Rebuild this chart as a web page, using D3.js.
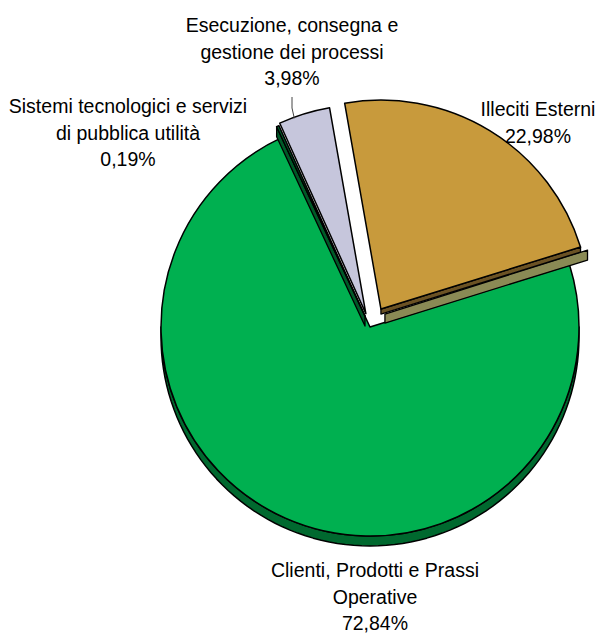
<!DOCTYPE html>
<html>
<head>
<meta charset="utf-8">
<script src="https://cdn.jsdelivr.net/npm/d3@7"></script>
<style>
  html, body { margin: 0; padding: 0; background: #fff; }
  svg { display: block; }
  text { font-family: "Liberation Sans", Arial, sans-serif; font-size: 19.5px; fill: #000; }
</style>
</head>
<body>
<svg id="chart" width="596" height="635"></svg>
<script>
// ---- data ----
const categories = [
  "Illeciti Esterni",
  "Clienti, Prodotti e Prassi Operative",
  "Sistemi tecnologici e servizi di pubblica utilità",
  "Esecuzione, consegna e gestione dei processi"
];
const values = [22.98, 72.84, 0.19, 3.98];
const percentLabels = ["22,98%", "72,84%", "0,19%", "3,98%"];
const nameLines = [
  ["Illeciti Esterni"],
  ["Clienti, Prodotti e Prassi", "Operative"],
  ["Sistemi tecnologici e servizi", "di pubblica utilità"],
  ["Esecuzione, consegna e", "gestione dei processi"]
];
const colors = ["#C89A3C", "#00B050", "#00642E", "#C6C6DC"];

// ---- layout ----
const svg = d3.select("#chart");
const cx = 370, cy = 327, R = 209, depth = 10;
const explode = [21, 0, 12, 14];
const startDeg = -10;
const toRad = d => d * Math.PI / 180;

const pie = d3.pie().sort(null).value(d => d)
  .startAngle(toRad(startDeg)).endAngle(toRad(startDeg) + 2 * Math.PI);
const arcs = pie(values);
const arc = d3.arc().innerRadius(0).outerRadius(R);

function offset(i) {
  const a = (arcs[i].startAngle + arcs[i].endAngle) / 2;
  return [explode[i] * Math.sin(a), -explode[i] * Math.cos(a)];
}
function pt(a, r, o) {
  return [cx + o[0] + r * Math.sin(a), cy + o[1] - r * Math.cos(a)];
}
function poly(points) { return "M" + points.map(p => p.join(",")).join("L") + "Z"; }

const g = svg.append("g");

// side wall of the large slice (front half)
{
  const i = 1, d = arcs[i], o = offset(i);
  const a0 = Math.max(d.startAngle, Math.PI / 2), a1 = Math.min(d.endAngle, 3 * Math.PI / 2);
  const n = 80, top = [], bot = [];
  for (let k = 0; k <= n; k++) {
    const a = a0 + (a1 - a0) * k / n;
    const p = pt(a, R, o);
    top.push(p); bot.push([p[0], p[1] + depth]);
  }
  g.append("path").attr("d", poly(top.concat(bot.reverse())))
    .attr("fill", "#00692F").attr("stroke", "#000").attr("stroke-width", 1.5)
    .attr("stroke-linejoin", "round");
}

// green top
g.append("path").attr("d", arc(arcs[1]))
  .attr("transform", `translate(${cx + offset(1)[0]},${cy + offset(1)[1]})`)
  .attr("fill", colors[1]).attr("stroke", "#000").attr("stroke-width", 1.5).attr("stroke-linejoin", "round");

// radial side faces of the first slice (end edge)
{
  const i = 0, d = arcs[i], o = offset(i);
  const P0 = [cx + o[0], cy + o[1]];
  const P1 = pt(d.endAngle, R, o);
  const olive = [[P0[0] + 4, P0[1] + 5], [P1[0] + 7, P1[1] + 3], [P1[0] + 7, P1[1] + 13], [P0[0] + 4, P0[1] + 14]];
  g.append("path").attr("d", poly(olive))
    .attr("fill", "#8A8A55").attr("stroke", "#000").attr("stroke-width", 1.3).attr("stroke-linejoin", "round");
  const brown = [P0, P1, [P1[0], P1[1] + 5], [P0[0], P0[1] + 5]];
  g.append("path").attr("d", poly(brown))
    .attr("fill", "#6B5224").attr("stroke", "#000").attr("stroke-width", 1.3).attr("stroke-linejoin", "round");
}

// radial side face of the thin slice (start edge)
{
  const i = 2, d = arcs[i], o = offset(i);
  const P0 = [cx + o[0], cy + o[1]];
  const P1 = pt(d.startAngle, R, o);
  const face = [P0, P1, [P1[0], P1[1] + depth], [P0[0], P0[1] + depth]];
  g.append("path").attr("d", poly(face))
    .attr("fill", "#005A28").attr("stroke", "#000").attr("stroke-width", 1.3).attr("stroke-linejoin", "round");
}

// remaining tops
[0, 2, 3].forEach(i => {
  const o = offset(i);
  g.append("path").attr("d", arc(arcs[i]))
    .attr("transform", `translate(${cx + o[0]},${cy + o[1]})`)
    .attr("fill", colors[i]).attr("stroke", "#000").attr("stroke-width", 1.5).attr("stroke-linejoin", "round");
});

// leader line for the small slice label
{
  const i = 3, o = offset(i);
  const a = arcs[i].startAngle + (arcs[i].endAngle - arcs[i].startAngle) * 0.3;
  const p = pt(a, R, o);
  svg.append("polyline")
    .attr("points", `292,97 292,108 ${p[0].toFixed(1)},${(p[1] + 1).toFixed(1)}`)
    .attr("fill", "none").attr("stroke", "#444").attr("stroke-width", 1);
}

// labels
const labelPos = [
  { x: 538, y: 116 },
  { x: 375, y: 577 },
  { x: 128, y: 113 },
  { x: 292, y: 32 }
];
const lineH = 26.5;
categories.forEach((c, i) => {
  const lines = nameLines[i].concat([percentLabels[i]]);
  const t = svg.append("text").attr("text-anchor", "middle");
  lines.forEach((ln, k) => {
    t.append("tspan").attr("x", labelPos[i].x).attr("y", labelPos[i].y + k * lineH).text(ln);
  });
});
</script>
</body>
</html>
